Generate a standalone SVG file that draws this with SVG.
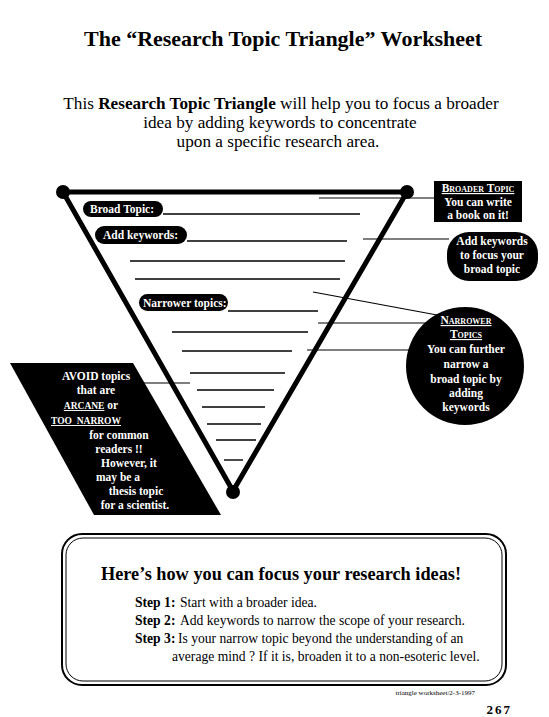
<svg xmlns="http://www.w3.org/2000/svg" width="549" height="717" viewBox="0 0 549 717">
<style>
.serif{font-family:"Liberation Serif","Times New Roman",serif;}
.b{font-weight:bold;}
.blank{stroke:#000;stroke-width:1.4;fill:none;}
.conn{stroke:#000;stroke-width:1.2;fill:none;}
.edge{stroke:#000;stroke-width:5;stroke-linecap:round;fill:none;}
.pill{fill:#000;}
.pt{font-family:"Liberation Serif","Times New Roman",serif;font-weight:bold;font-size:11.5px;fill:#fff;}
.nt{font-family:"Liberation Serif","Times New Roman",serif;font-weight:bold;font-size:11.5px;fill:#fff;text-anchor:middle;}
.sc{font-variant:small-caps;text-decoration:underline;}
.cap{font-size:9.5px;text-decoration:underline;}
</style>
<rect width="549" height="717" fill="#fff"/>

<g id="title">
<text class="serif b" x="283" y="46" font-size="22" text-anchor="middle">The “Research Topic Triangle” Worksheet</text>
</g>

<g id="intro" class="serif" font-size="17.2" text-anchor="middle">
<text x="281" y="109">This <tspan font-weight="bold">Research Topic Triangle</tspan> will help you to focus a broader</text>
<text x="280" y="128">idea by adding keywords to concentrate</text>
<text x="278" y="147">upon a specific research area.</text>
</g>

<g id="connectors">
<line class="conn" x1="319" y1="198" x2="434" y2="198"/>
<line class="conn" x1="363" y1="239" x2="449" y2="239"/>
<line class="conn" x1="313" y1="292" x2="437" y2="315"/>
<line class="conn" x1="318" y1="323" x2="430" y2="323"/>
<line class="conn" x1="307" y1="350" x2="412" y2="350"/>
<line class="conn" x1="140" y1="383" x2="190" y2="383"/>
</g>

<g id="triangle">
<line class="edge" x1="63" y1="192" x2="407" y2="192"/>
<line class="edge" x1="63" y1="192" x2="233" y2="491"/>
<line class="edge" x1="407" y1="192" x2="233" y2="491"/>
<circle cx="63" cy="192" r="7"/>
<circle cx="407" cy="192" r="7"/>
<circle cx="233" cy="492" r="7"/>
</g>

<g id="blanks">
<line class="blank" x1="163" y1="214" x2="360" y2="214"/>
<line class="blank" x1="187" y1="241" x2="347" y2="241"/>
<line class="blank" x1="130" y1="261" x2="345" y2="261"/>
<line class="blank" x1="135" y1="279" x2="340" y2="279"/>
<line class="blank" x1="228" y1="311" x2="318" y2="311"/>
<line class="blank" x1="172" y1="332" x2="308" y2="332"/>
<line class="blank" x1="182" y1="351" x2="292" y2="351"/>
<line class="blank" x1="190" y1="373" x2="285" y2="373"/>
<line class="blank" x1="197" y1="390" x2="274" y2="390"/>
<line class="blank" x1="202" y1="407" x2="265" y2="407"/>
<line class="blank" x1="207" y1="424" x2="261" y2="424"/>
<line class="blank" x1="216" y1="440" x2="256" y2="440"/>
<line class="blank" x1="224" y1="460" x2="243" y2="460"/>
</g>

<g id="broad-topic-label">
<rect class="pill" x="83" y="201" width="80" height="16" rx="8"/>
<text class="pt" x="90" y="213">Broad Topic:</text>
</g>
<g id="add-keywords-label">
<rect class="pill" x="95" y="226" width="92" height="18" rx="9"/>
<text class="pt" x="103" y="239">Add keywords:</text>
</g>
<g id="narrower-topics-label">
<rect class="pill" x="139" y="294" width="89" height="17" rx="8.5"/>
<text class="pt" x="143" y="307">Narrower topics:</text>
</g>

<g id="broader-topic-box">
<rect x="434" y="181" width="88" height="41" fill="#000"/>
<text class="nt" x="478" y="192" font-size="11"><tspan class="sc">Broader Topic</tspan></text>
<text class="nt" x="478" y="205.5" font-size="11">You can write</text>
<text class="nt" x="478" y="219" font-size="11">a book on it!</text>
</g>

<g id="add-keywords-box">
<rect x="447" y="232" width="91" height="49" rx="22" fill="#000"/>
<text class="nt" x="492" y="245">Add keywords</text>
<text class="nt" x="492" y="259">to focus your</text>
<text class="nt" x="492" y="273">broad topic</text>
</g>

<g id="narrower-topics-circle">
<circle cx="465" cy="366" r="59" fill="#000"/>
<text class="nt" x="466" y="324"><tspan class="sc">Narrower</tspan></text>
<text class="nt" x="466" y="338"><tspan class="sc">Topics</tspan></text>
<text class="nt" x="466" y="353">You can further</text>
<text class="nt" x="466" y="368">narrow a</text>
<text class="nt" x="466" y="383">broad topic by</text>
<text class="nt" x="466" y="397">adding</text>
<text class="nt" x="466" y="411">keywords</text>
</g>

<g id="avoid-box">
<polygon points="10,363 133,363 221,515 94,515" fill="#000"/>
<text class="nt" x="96" y="380">AVOID topics</text>
<text class="nt" x="96" y="394">that are</text>
<text class="nt" x="91" y="409"><tspan class="cap">ARCANE</tspan> or</text>
<text class="nt" x="86" y="424"><tspan class="cap">TOO_NARROW</tspan></text>
<text class="nt" x="119" y="439">for common</text>
<text class="nt" x="119" y="453">readers !!</text>
<text class="nt" x="129" y="467">However, it</text>
<text class="nt" x="118" y="481">may be a</text>
<text class="nt" x="136" y="495">thesis topic</text>
<text class="nt" x="135" y="509">for a scientist.</text>
</g>

<g id="steps-box">
<rect x="62" y="534" width="444" height="151" rx="20" fill="none" stroke="#000" stroke-width="2"/>
<rect x="66" y="538" width="436" height="143" rx="17" fill="none" stroke="#000" stroke-width="1"/>
<text class="serif b" x="281" y="580" font-size="18.3" text-anchor="middle">Here’s how you can focus your research ideas!</text>
<g class="serif" font-size="13.6">
<text x="135" y="607"><tspan font-weight="bold">Step 1:</tspan></text>
<text x="180" y="607">Start with a broader idea.</text>
<text x="135" y="625"><tspan font-weight="bold">Step 2:</tspan></text>
<text x="180" y="625">Add keywords to narrow the scope of your research.</text>
<text x="135" y="643"><tspan font-weight="bold">Step 3:</tspan></text>
<text x="178" y="643">Is your narrow topic beyond the understanding of an</text>
<text x="172" y="661">average mind ? If it is, broaden it to a non-esoteric level.</text>
</g>
</g>

<g id="footer">
<text class="serif" x="475" y="695" font-size="7" text-anchor="end">triangle worksheet/2-3-1997</text>
<text class="serif b" x="512" y="714" font-size="13" letter-spacing="2" text-anchor="end">267</text>
</g>
</svg>
